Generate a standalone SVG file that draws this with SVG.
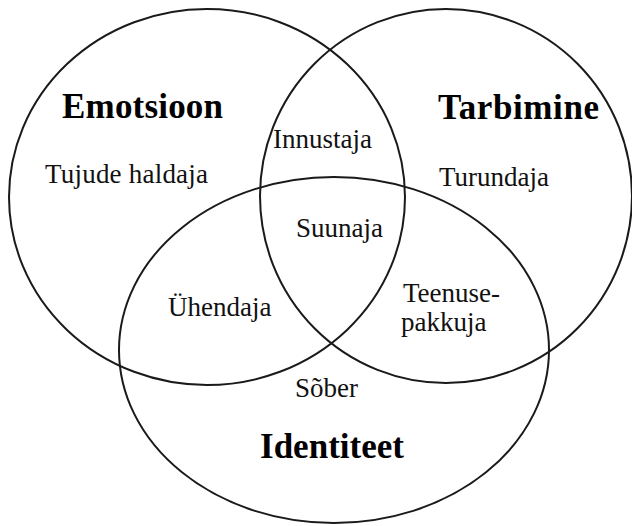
<svg xmlns="http://www.w3.org/2000/svg" width="632" height="526" viewBox="0 0 632 526">
<style>
.c{fill:none;stroke:#1a1a1a;stroke-width:2}
.t{font-family:"Liberation Serif","Times New Roman",serif;font-size:27px;fill:#111}
.b{font-family:"Liberation Serif","Times New Roman",serif;font-size:35px;font-weight:bold;fill:#000}
</style>
<rect width="632" height="526" fill="#fff"/>
<g id="emotsioon">
<ellipse class="c" cx="207" cy="197" rx="198" ry="188"/>
<text class="b" x="62" y="118" textLength="161">Emotsioon</text>
<text class="t" x="45" y="183" textLength="163">Tujude haldaja</text>
</g>
<g id="tarbimine">
<ellipse class="c" cx="446" cy="196" rx="186" ry="187"/>
<text class="b" x="438" y="119" textLength="161">Tarbimine</text>
<text class="t" x="439" y="186">Turundaja</text>
</g>
<g id="identiteet">
<ellipse class="c" cx="334" cy="350" rx="215" ry="173"/>
<text class="b" x="260" y="458" textLength="144">Identiteet</text>
<text class="t" x="295" y="397">Sõber</text>
</g>
<g id="intersections">
<text class="t" x="273" y="148">Innustaja</text>
<text class="t" x="296" y="237">Suunaja</text>
<text class="t" x="168" y="316">Ühendaja</text>
<text class="t" x="403" y="302">Teenuse-</text>
<text class="t" x="401" y="331">pakkuja</text>
</g>
<g id="connectors"></g>
</svg>
